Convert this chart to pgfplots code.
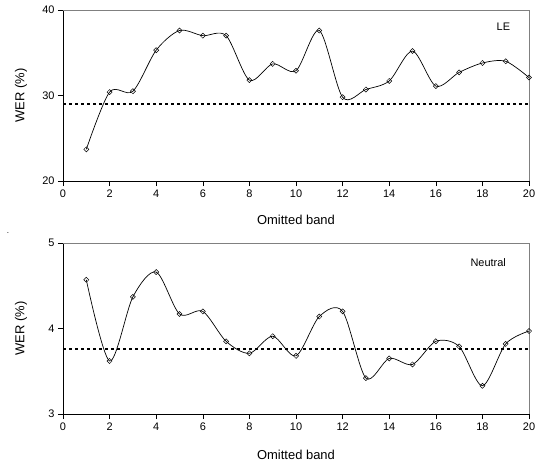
\documentclass[border=0pt]{standalone}
\usepackage{fontspec}
\setmainfont{Liberation Sans}
\usepackage{pgfplots}
\pgfplotsset{compat=1.18}

% top panel: LE, bottom panel: Neutral
\newcommand\labfont{\fontsize{13}{15}\selectfont}
\pgfplotsset{
  werpanel/.style={
    scale only axis,
    width=466bp, height=171bp,
    xmin=0, xmax=20,
    xtick={0,2,...,20},
    axis x line=bottom, axis y line=left,
    axis line style={-, black, line width=0.6pt},
    tick align=outside,
    major tick length=5bp,
    tick style={black, line width=0.6pt},
    /pgf/number format/assume math mode=true,
    ticklabel style={font=\fontsize{11}{13}\selectfont},
    xlabel={Omitted band},
    ylabel={WER (\%)},
    every axis y label/.style={at={(axis description cs:-0.090,0.5)}, rotate=90, anchor=center, font=\labfont},
    clip=false,
  },
  wercurve/.style={black, line width=0.7pt, smooth, mark=square, mark size=1.8pt,
    mark options={solid, rotate=45, line width=0.5pt, fill=white}},
  werbase/.style={black, line width=1.6bp, dash pattern=on 3bp off 3bp, forget plot},
}

\begin{document}
\begin{tikzpicture}
\useasboundingbox (-63bp,-280bp) rectangle (473bp,181bp);

\begin{axis}[werpanel,
  at={(0,0)},
  ymin=20, ymax=40, ytick={20,30,40},
  every axis x label/.style={at={(axis description cs:0.5,-0.228)}, anchor=center, font=\labfont},
]
\draw[gray, line width=0.6pt] (rel axis cs:0,1) -- (rel axis cs:1,1) -- (rel axis cs:1,0);
\addplot[werbase] coordinates {(0,29.0) (20,29.0)};
\addplot[wercurve] coordinates {
  (1,23.7) (2,30.4) (3,30.5) (4,35.3) (5,37.6) (6,37.0) (7,37.0)
  (8,31.8) (9,33.7) (10,32.9) (11,37.6) (12,29.8) (13,30.7) (14,31.7)
  (15,35.2) (16,31.1) (17,32.7) (18,33.8) (19,34.0) (20,32.1)
};
\node[font=\fontsize{11}{13}\selectfont] at (axis cs:18.9,38.0) {LE};
\end{axis}

\begin{axis}[werpanel,
  at={(0,-233bp)},
  ymin=3, ymax=5, ytick={3,4,5},
  every axis x label/.style={at={(axis description cs:0.5,-0.24)}, anchor=center, font=\labfont},
]
\draw[gray, line width=0.6pt] (rel axis cs:0,1) -- (rel axis cs:1,1) -- (rel axis cs:1,0);
\addplot[werbase] coordinates {(0,3.76) (20,3.76)};
\addplot[wercurve] coordinates {
  (1,4.57) (2,3.62) (3,4.37) (4,4.66) (5,4.17) (6,4.20) (7,3.85)
  (8,3.71) (9,3.91) (10,3.68) (11,4.14) (12,4.20) (13,3.42) (14,3.65)
  (15,3.58) (16,3.85) (17,3.79) (18,3.33) (19,3.82) (20,3.97)
};
\node[font=\fontsize{11}{13}\selectfont] at (axis cs:18.25,4.77) {Neutral};
\end{axis}

\node[font=\fontsize{8}{9}\selectfont] at (-55bp,-52bp) {.};
\end{tikzpicture}
\end{document}
